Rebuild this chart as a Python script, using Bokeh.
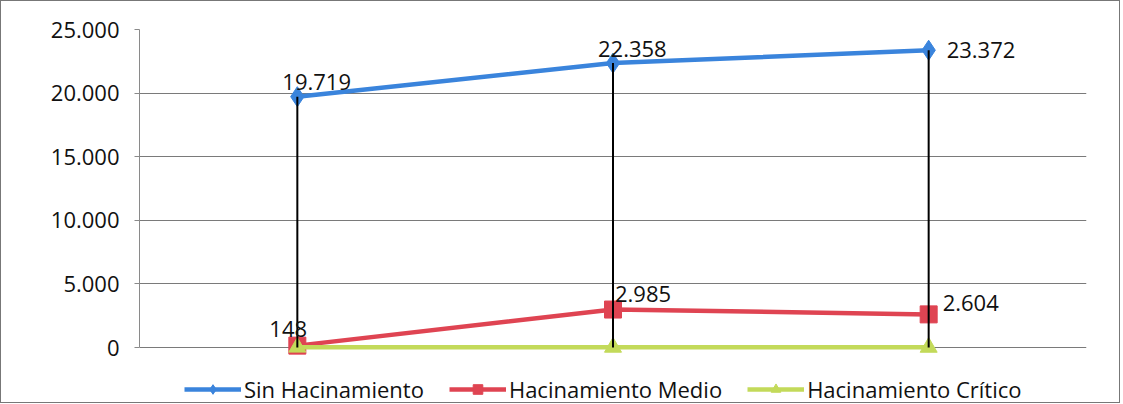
from bokeh.plotting import figure
from bokeh.models import (ColumnDataSource, Range1d, CustomJSTickFormatter, Legend,
                          LegendItem, FixedTicker)
from bokeh.core.properties import value
from bokeh.embed import file_html
from bokeh.resources import INLINE

# ---- data ----
categories = ["Periodo 1", "Periodo 2", "Periodo 3"]
sin_hacinamiento = [19719, 22358, 23372]
hacinamiento_medio = [148, 2985, 2604]
hacinamiento_critico = [25, 18, 14]
y_ticks = [0, 5000, 10000, 15000, 20000, 25000]
series_names = ["Sin Hacinamiento", "Hacinamiento Medio", "Hacinamiento Crítico"]

FONT = "Open Sans"
BLUE = "#3a84dc"
RED = "#df4452"
GREEN = "#c3da5a"

p = figure(x_range=categories, y_range=Range1d(-4480, 25000),
           width=1120, height=403, output_backend="svg", toolbar_location=None,
           min_border_left=138, min_border_right=35, min_border_top=28,
           min_border_bottom=0)
p.x_range.range_padding = 0
p.outline_line_color = None
p.xaxis.visible = False
p.xgrid.grid_line_color = None
p.ygrid.grid_line_color = "#7a7a7a"
p.ygrid.grid_line_width = 1

p.yaxis.ticker = FixedTicker(ticks=y_ticks)
p.yaxis.bounds = (0, 25000)
p.yaxis.formatter = CustomJSTickFormatter(
    code="return Math.round(tick).toString().replace(/\\B(?=(\\d{3})+(?!\\d))/g, '.');")
p.yaxis.axis_line_color = "#8a8a8a"
p.yaxis.major_tick_line_color = "#8a8a8a"
p.yaxis.major_tick_out = 5
p.yaxis.major_tick_in = 0
p.yaxis.minor_tick_line_color = None
p.yaxis.major_label_text_font = FONT
p.yaxis.major_label_text_font_size = "22px"
p.yaxis.major_label_text_color = "#111111"
p.yaxis.major_label_standoff = 15

src = ColumnDataSource(dict(cat=categories, s=sin_hacinamiento,
                            m=hacinamiento_medio, c=hacinamiento_critico,
                            top=[max(a, b, c) for a, b, c in zip(sin_hacinamiento, hacinamiento_medio, hacinamiento_critico)],
                            zero=[0] * len(categories)))

l1 = p.line("cat", "s", source=src, line_color=BLUE, line_width=4.5)
m1 = p.scatter("cat", "s", source=src, marker="diamond", size=20, fill_color=BLUE, line_color=BLUE)
l2 = p.line("cat", "m", source=src, line_color=RED, line_width=4.5)
m2 = p.scatter("cat", "m", source=src, marker="square", size=17, fill_color=RED, line_color=RED)
l3 = p.line("cat", "c", source=src, line_color=GREEN, line_width=4.5)
m3 = p.scatter("cat", "c", source=src, marker="triangle", size=17, fill_color=GREEN, line_color=GREEN)

# high-low drop lines
p.segment(x0="cat", y0="zero", x1="cat", y1="top", source=src, line_color="black", line_width=2)

def fmt(v):
    return f"{v:,}".replace(",", ".") if v >= 1000 else str(v)

# data labels
lab_x = categories + categories
lab_y = sin_hacinamiento + hacinamiento_medio
lab_t = [fmt(v) for v in lab_y]
lab_dx = [-15, -15, 18, -28, 2, 14]
lab_dy = [-15, -14, 0, -17, -16, -11]
lsrc = ColumnDataSource(dict(x=lab_x, y=lab_y, t=lab_t, dx=lab_dx, dy=lab_dy))
p.text(x="x", y="y", text="t", source=lsrc, x_offset="dx", y_offset="dy",
       text_font=value(FONT), text_font_size="22px", text_color="#111111",
       text_align="left", text_baseline="middle")

legend = Legend(items=[LegendItem(label=series_names[0], renderers=[l1, m1]),
                       LegendItem(label=series_names[1], renderers=[l2, m2]),
                       LegendItem(label=series_names[2], renderers=[l3, m3])],
                orientation="horizontal", location=(45, 0),
                label_text_font=FONT, label_text_font_size="22px",
                label_text_color="#111111", glyph_width=57, glyph_height=24,
                spacing=25, label_standoff=3, padding=0, margin=0,
                border_line_color=None, background_fill_alpha=0)
p.add_layout(legend)
p.styles = {"border": "1px solid #777777"}

open("out.html", "w").write(file_html(p, INLINE))
